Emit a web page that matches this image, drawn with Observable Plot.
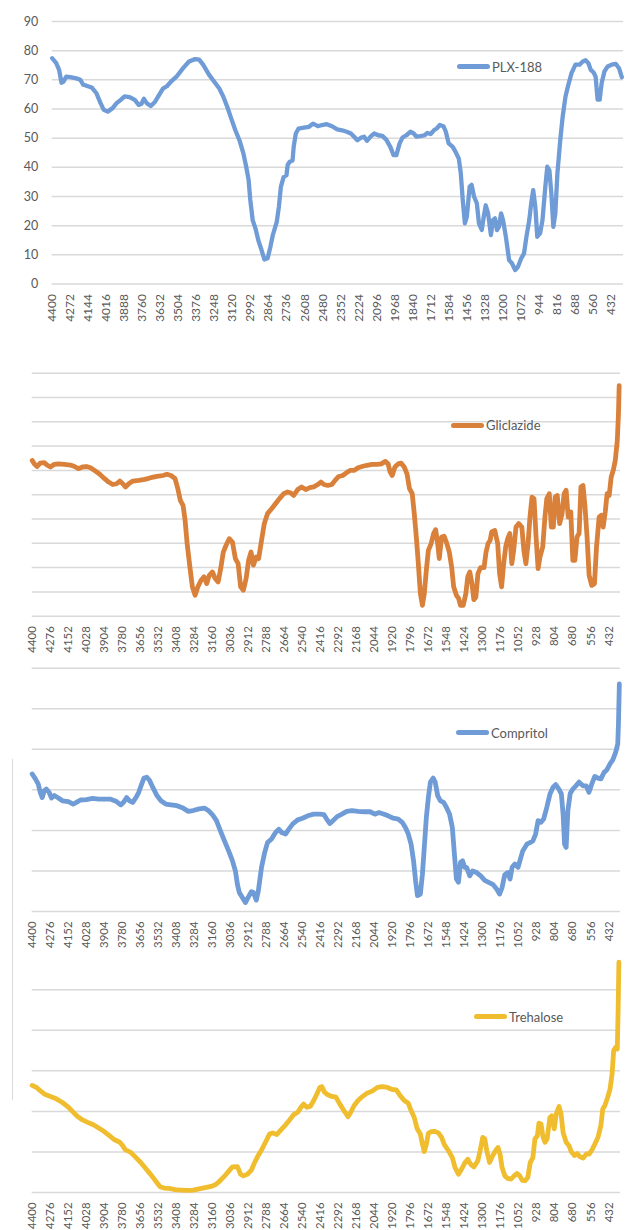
<!DOCTYPE html>
<html>
<head>
<meta charset="utf-8">
<script src="https://cdn.jsdelivr.net/npm/d3@7"></script>
<script src="https://cdn.jsdelivr.net/npm/@observablehq/plot@0.6"></script>
<style>
  html, body { margin: 0; padding: 0; background: #fff; }
  #wrap { position: relative; width: 631px; height: 1230px; overflow: hidden; background: #fff; font-family: Lato, "Open Sans", sans-serif; }
  .panel { position: absolute; left: 0; }
  .legend { position: absolute; display: flex; align-items: center; font-size: 13px; color: #595959; white-space: nowrap; }
  .legend .sw { width: 33px; height: 5px; border-radius: 3px; margin-right: 2px; }
  .vline { position: absolute; left: 12px; top: 759px; width: 1px; height: 341px; background: #d9d9d9; }
</style>
</head>
<body>
<div id="wrap"><div class="vline"></div></div>
<script>
// ---------- tick labels ----------
const ticksPLX = [4400,4272,4144,4016,3888,3760,3632,3504,3376,3248,3120,2992,2864,2736,2608,2480,2352,2224,2096,1968,1840,1712,1584,1456,1328,1200,1072,944,816,688,560,432];
const ticksOther = [4400,4276,4152,4028,3904,3780,3656,3532,3408,3284,3160,3036,2912,2788,2664,2540,2416,2292,2168,2044,1920,1796,1672,1548,1424,1300,1176,1052,928,804,680,556,432];
const yTicksPLX = [0,10,20,30,40,50,60,70,80,90];

// ---------- PLX-188 ----------
const plxWave = [4400,4371,4351,4334,4320,4300,4271,4229,4200,4180,4157,4120,4086,4057,4034,4006,3971,3943,3914,3886,3851,3814,3786,3766,3749,3729,3700,3671,3643,3614,3586,3557,3514,3471,3429,3386,3357,3329,3286,3251,3214,3186,3157,3129,3100,3071,3043,3023,3006,2994,2977,2957,2937,2914,2894,2871,2851,2834,2806,2791,2777,2757,2737,2729,2714,2694,2686,2671,2651,2614,2577,2549,2514,2486,2451,2414,2377,2343,2309,2280,2257,2234,2206,2186,2166,2137,2114,2086,2057,2029,2000,1977,1957,1934,1914,1886,1857,1834,1814,1786,1757,1737,1714,1691,1671,1649,1623,1606,1586,1557,1537,1514,1500,1486,1471,1457,1437,1423,1406,1386,1371,1351,1337,1323,1306,1286,1271,1257,1243,1229,1214,1200,1180,1157,1137,1114,1094,1071,1051,1034,1014,1000,986,971,957,937,920,900,886,871,857,843,829,814,794,777,757,737,714,686,657,634,614,594,577,557,543,529,514,500,480,457,429,400,377,357];
const plxT = [77.4,75.7,73.4,69,69.4,71.1,70.9,70.5,70,68.3,68,67.4,65.4,62,59.7,59.1,60.3,62,63.1,64.3,64.1,63.1,61.4,61.8,63.5,62,61,62.4,64.7,67,67.8,69.4,71.3,74,76.3,77.1,76.9,75.2,71.7,69.4,67,64.3,60.7,56.7,52.7,49.3,44.8,40.2,35.7,28.8,21.9,19,15,11.6,8.4,8.8,12.8,16.8,21.3,26.5,33.3,36.7,37.3,40.8,41.9,42.3,47,51.6,53.3,53.6,53.9,55,54.1,54.5,54.8,54.1,53,52.7,52.2,51.6,50.5,49.3,50.2,50.5,49.1,50.7,51.6,51,50.8,49.5,47,44.2,44.2,48.2,50.2,51,52.2,51.6,50.5,50.7,51,51.8,51.4,52.7,53.3,54.5,54.1,52.2,48.2,47,45.3,43,38,28.8,20.8,23,33.4,34,30,27.7,20.8,18.5,23,27,24.2,16.8,21.9,22.5,18.5,19.6,24.2,21.9,16.2,8.2,7.1,4.8,5.9,8.8,10.5,16.2,21.9,27.7,32.2,26.5,16.2,17.4,21.9,33.3,40.2,39,31,19.6,24.2,38,49.3,57.3,64.2,68.2,72.3,75.2,75.2,76.3,76.7,75.7,73.4,72.5,71.1,63.2,63.2,68.9,72.9,74.6,75.2,75.5,74,70.9];

// ---------- Gliclazide ----------
const glicWave = [4400,4386,4367,4345,4317,4295,4275,4248,4220,4179,4137,4109,4082,4054,4026,3999,3971,3935,3902,3874,3846,3819,3797,3777,3758,3736,3708,3667,3625,3584,3542,3500,3473,3445,3417,3398,3381,3362,3348,3334,3315,3298,3279,3260,3238,3218,3199,3182,3160,3141,3121,3105,3085,3066,3044,3022,3002,2983,2966,2947,2928,2911,2894,2878,2858,2842,2822,2803,2781,2753,2726,2698,2670,2643,2623,2601,2573,2546,2518,2490,2463,2435,2413,2393,2366,2338,2316,2291,2263,2241,2213,2186,2158,2130,2097,2061,2025,1998,1970,1951,1937,1923,1904,1882,1862,1840,1821,1804,1785,1771,1757,1743,1729,1715,1702,1688,1674,1655,1638,1624,1610,1599,1583,1566,1550,1530,1514,1500,1481,1466,1453,1434,1416,1403,1389,1374,1361,1347,1333,1315,1291,1277,1263,1249,1238,1217,1197,1184,1170,1156,1142,1128,1114,1100,1087,1071,1052,1031,1017,1003,988,975,961,947,933,919,906,887,872,859,842,828,814,802,787,771,754,740,726,712,694,680,666,651,637,624,610,596,582,568,550,531,517,499,485,471,457,444,430,416,402,388,374,366,361];
const glicT = [64.1,62.7,61.6,63,63.2,62.1,61.4,62.5,62.7,62.5,62.2,61.6,60.7,61.4,61.6,61.1,60,58.4,56.6,55.2,54.2,54.5,55.6,54.5,53.2,54.5,55.6,55.9,56.3,57,57.5,57.9,58.4,57.9,56.6,52.5,47.7,45.6,39.5,29.9,20.3,12.1,8.6,12.1,14.8,16.2,13.4,16.8,18.2,15.5,14.1,18.9,26.4,29.2,31.9,30.5,23.7,21.6,12.1,10.7,15.5,23,26.4,21,24.4,23.7,31.2,38.1,42.2,44.2,46.3,48.4,50.4,51.1,50.8,49.7,52.1,53.2,52.1,52.9,53.2,54.2,55.2,54.2,53.8,54.2,55.9,57.5,57.9,58.9,60,60,61.1,61.6,62.1,62.5,62.5,62.7,63.7,62.7,59.3,57.9,61.4,62.7,63,61.4,58.6,52.5,50.4,42.2,32.6,21.6,9.3,4.5,9.3,18.9,27.1,29.9,34,35.6,29.9,23.7,32.6,32.9,30.5,26.4,20.3,12.1,8.6,7.3,4.5,4.5,9.3,16.2,18.2,13.4,6.8,7.9,17.5,20,20,26.4,29.9,31.2,34.7,35.3,29.9,17.5,12.1,21.6,28.5,31.9,34,21.6,27.1,36.7,38.1,36.7,27.1,21.6,29.9,40.8,49,48.4,32.6,19.6,24.4,28.5,40.8,48.4,50.4,36.7,36.7,49,49.7,38.1,42.2,50.4,51.8,40.8,42.9,23,23,32.6,34,53.2,53.8,44.9,32.6,16.8,12.7,13.4,28.5,40.8,41.5,36.7,42.9,50.4,49.7,57.3,60,64.1,72.3,83.3,94.9];

// ---------- Compritol ----------
const compWave = [4400,4378,4358,4345,4331,4317,4303,4284,4267,4248,4220,4192,4151,4118,4096,4068,4026,3985,3943,3902,3860,3824,3791,3772,3750,3730,3708,3686,3667,3647,3631,3611,3592,3570,3542,3514,3481,3445,3404,3362,3326,3293,3251,3215,3188,3160,3132,3105,3077,3049,3022,3002,2988,2975,2955,2933,2914,2892,2878,2858,2844,2822,2800,2781,2753,2726,2703,2684,2656,2634,2607,2573,2540,2504,2463,2421,2393,2374,2352,2330,2302,2269,2236,2200,2158,2117,2075,2042,2014,1978,1951,1915,1881,1854,1832,1812,1793,1776,1762,1749,1729,1715,1702,1688,1674,1660,1641,1627,1610,1591,1569,1550,1528,1509,1495,1481,1467,1453,1439,1425,1411,1389,1370,1342,1314,1286,1259,1231,1203,1184,1167,1148,1128,1112,1098,1079,1057,1038,1024,996,975,955,936,919,899,881,859,837,817,798,776,759,747,737,726,714,698,680,659,637,610,588,569,550,529,507,487,465,446,424,405,385,371,366,360];
const compT = [33.9,32.7,31.4,29.4,28.1,29.8,30.2,29.4,28,28.6,28,27.3,27.1,26.5,26.9,27.5,27.6,27.9,27.7,27.7,27.7,27.2,26.3,26.9,28.1,27.3,26.9,28.1,29.4,31.4,32.9,33.1,32.3,30.6,28.6,27.3,26.5,26.3,26.1,25.5,24.7,24.9,25.3,25.5,24.9,23.9,22.4,19.9,17.4,15,12.5,10,6.7,4.7,3.5,2.2,3.5,4.9,4.7,2.8,5.1,10.9,14.6,17,17.9,19.5,20.3,19.5,19.1,20.3,21.6,22.6,23,23.6,24,24,23.9,22.8,21.7,22.4,23.4,24,24.7,24.9,24.7,24.6,24.6,24,24.4,24,23.6,23,22.8,22,20.7,19.1,16.6,12.5,7.6,3.9,4.3,9.2,15.8,23.2,28.1,31.9,32.9,31.9,28.6,27.3,26.9,25.7,24,20.7,14.2,8,7.2,12.1,12.5,10.9,10.9,8.8,10,9.6,8.8,7.7,7.2,6.7,5.5,4.3,5.9,9.1,9.6,8,10.9,11.7,10.9,13.3,15,16.6,17,17.4,19.1,22.4,22,22.8,25.7,29,30.6,31.3,30.2,29,24,16.6,15.8,24.9,29.1,30.2,31,31.9,31,31,29.4,31.4,33.3,32.9,32.7,34.3,34.9,36.4,37.4,39.3,41.3,46.3,56.1];

// ---------- Trehalose ----------
const trehWave = [4400,4370,4345,4317,4275,4234,4192,4156,4123,4090,4054,4018,3979,3943,3907,3869,3833,3797,3777,3758,3722,3686,3653,3619,3584,3548,3520,3492,3459,3417,3376,3334,3293,3251,3210,3168,3141,3113,3080,3049,3022,2988,2966,2947,2919,2892,2872,2850,2822,2795,2767,2745,2717,2690,2656,2629,2601,2573,2551,2532,2510,2485,2463,2441,2421,2407,2388,2366,2338,2310,2283,2255,2227,2208,2186,2158,2130,2097,2061,2025,1992,1956,1923,1895,1868,1840,1812,1793,1771,1751,1729,1715,1702,1688,1674,1655,1633,1605,1583,1564,1536,1509,1491,1467,1445,1425,1403,1384,1361,1334,1318,1300,1286,1272,1253,1231,1212,1195,1181,1167,1148,1128,1106,1084,1065,1045,1028,1009,990,973,955,941,924,913,899,885,871,857,838,825,808,794,775,761,747,726,706,691,669,650,631,609,587,568,548,529,507,487,474,460,440,424,410,399,385,374,368,363];
const trehT = [26.4,25.9,25.1,24.3,23.7,23.1,22.2,21.2,20,18.8,17.9,17.3,16.7,15.9,15.1,14,13,12.4,11.5,10.5,9.9,8.6,7.4,5.9,4.4,2.7,1.4,1.1,1,0.7,0.6,0.5,0.6,0.9,1.2,1.5,1.9,2.7,3.9,5.2,6.3,6.4,4.5,4.1,4.5,5.5,7.2,8.8,10.5,12.4,14.4,14.7,14.3,15.4,16.7,17.9,19.2,19.8,21,21.8,21,21.3,22.7,24.3,25.9,26.1,24.7,24.1,23.7,23.5,21.8,20.2,18.7,19.8,21.4,22.7,23.6,24.5,25,25.9,26.1,25.9,25.4,25.3,23.9,22.7,22,20.2,18.5,15.7,14.4,11.9,10.1,11.9,14.6,15,15.1,14.7,13.6,11.8,10.3,8.6,6.2,4.5,5.8,7.2,8.2,7,6.3,7.8,10.3,13.6,13.2,10.3,7.4,9.1,10.3,11.1,9.5,6.2,4.1,3.5,3.3,4.1,4.7,4.1,3,2.9,3.7,7.4,8.6,13.2,14,17.1,16.9,13.6,12.4,13.2,18.5,18.9,15.7,19.4,21.2,19.4,14.8,12.4,11.5,10.1,9.1,9.6,8.8,8.5,9.5,9.5,10.5,11.9,13.6,16.5,20.6,21.4,23.5,25.5,29.2,35,35.8,35.4,45.7,56.8];

const zip = (ws, vs) => ws.map((w, i) => ({w, v: vs[i]}));
const fmt = d => String(d);
const wrap = document.getElementById("wrap");

function panel(o) {
  const marks = [
    Plot.gridY(o.gridTicks, {stroke: "#d9d9d9", strokeOpacity: 1, strokeWidth: 1.5}),
    Plot.axisX(o.xTicks, {tickSize: 0, tickPadding: o.xPad, tickRotate: -90, fontSize: o.xFont, fill: "#595959", tickFormat: fmt, label: null}),
    Plot.line(o.data, {x: "w", y: "v", stroke: o.color, strokeWidth: o.sw, strokeLinejoin: "round", strokeLinecap: "round"})
  ];
  if (o.yLabels) marks.push(Plot.axisY(o.yLabels, {tickSize: 0, tickPadding: 14, fontSize: 12.5, fill: "#595959", tickFormat: fmt, label: null}));
  const chart = Plot.plot({
    width: 631, height: o.height,
    marginTop: o.mt, marginBottom: o.mb, marginLeft: o.ml, marginRight: o.mr,
    x: {domain: o.xDomain, axis: null, label: null},
    y: {domain: o.yDomain, axis: null, label: null},
    style: {background: "transparent", overflow: "visible", fontFamily: "Lato, 'Open Sans', sans-serif"},
    marks
  });
  chart.classList.add("panel");
  chart.style.top = o.top + "px";
  chart.style.position = "absolute";
  wrap.appendChild(chart);
  const lg = document.createElement("div");
  lg.className = "legend";
  lg.style.left = o.lx + "px";
  lg.style.top = (o.ly - 9) + "px";
  lg.style.height = "18px";
  lg.innerHTML = `<span class="sw" style="background:${o.color}"></span><span>${o.name}</span>`;
  wrap.appendChild(lg);
}

panel({name: "PLX-188", top: 0, height: 330, mt: 21, mb: 46.5, ml: 51.7, mr: 8,
  xDomain: [4400, 345], yDomain: [0, 90], gridTicks: yTicksPLX, yLabels: yTicksPLX,
  xTicks: ticksPLX, xPad: 10, xFont: 12, data: zip(plxWave, plxT), color: "#6f9bd6", sw: 4.3, lx: 457, ly: 66.7});

panel({name: "Gliclazide", top: 330, height: 340, mt: 42.7, mb: 54.3, ml: 31.7, mr: 11,
  xDomain: [4400, 352], yDomain: [0, 100], gridTicks: d3.range(0, 101, 10), yLabels: null,
  xTicks: ticksOther, xPad: 10, xFont: 11.4, data: zip(glicWave, glicT), color: "#d9803a", sw: 4.8, lx: 451, ly: 425});

panel({name: "Compritol", top: 660, height: 290, mt: 7.7, mb: 39, ml: 31.7, mr: 11,
  xDomain: [4400, 352], yDomain: [0, 60], gridTicks: d3.range(0, 61, 10), yLabels: null,
  xTicks: ticksOther, xPad: 10, xFont: 11.4, data: zip(compWave, compT), color: "#6f9bd6", sw: 4.8, lx: 456, ly: 732.7});

panel({name: "Trehalose", top: 940, height: 290, mt: 8.7, mb: 38, ml: 31.7, mr: 11,
  xDomain: [4400, 352], yDomain: [0, 60], gridTicks: d3.range(0, 51, 10), yLabels: null,
  xTicks: ticksOther, xPad: 10, xFont: 11.4, data: zip(trehWave, trehT), color: "#f0bd2f", sw: 4.8, lx: 474, ly: 1016.7});
</script>
</body>
</html>
